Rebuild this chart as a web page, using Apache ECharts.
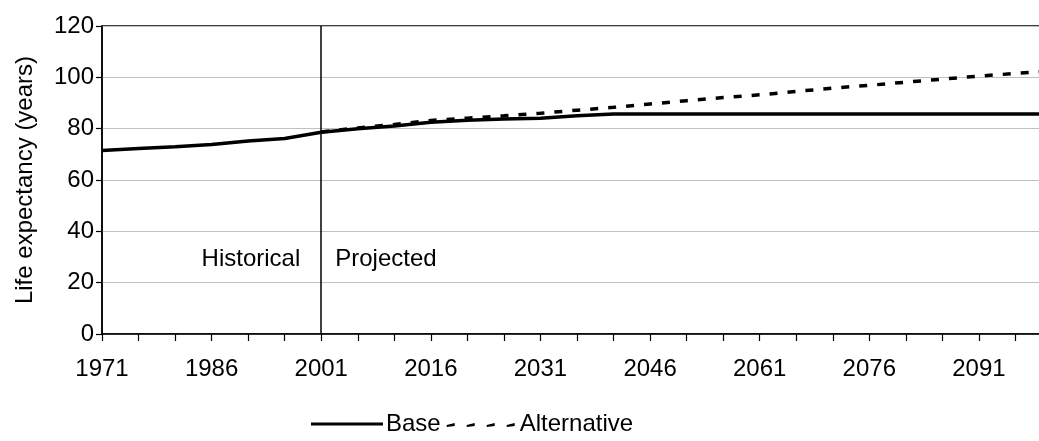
<!DOCTYPE html>
<html>
<head>
<meta charset="utf-8">
<script src="https://cdn.jsdelivr.net/npm/echarts@6/dist/echarts.min.js"></script>
<style>
html,body{margin:0;padding:0;background:#fff;}
#chart{width:1039px;height:441px;}
</style>
</head>
<body>
<div id="chart"></div>
<script>
var years = ['1971','1976','1981','1986','1991','1996','2001','2006','2011','2016','2021','2026','2031','2036','2041','2046','2051','2056','2061','2066','2071','2076','2081','2086','2091','2096','2101'];
var baseValues = [71.5,72.3,73.0,73.8,75.2,76.2,78.6,80.0,81.0,82.5,83.3,83.8,84.1,85.0,85.7,85.7,85.7,85.7,85.7,85.7,85.7,85.7,85.7,85.7,85.7,85.7,85.7];
var altValues = [null,null,null,null,null,null,78.7,80.3,81.6,83.2,84.1,85.0,86.0,87.2,88.3,89.6,90.9,92.1,93.2,94.5,95.8,96.9,98.1,99.3,100.5,101.5,102.5];
var yTicks = [0,20,40,60,80,100,120];
var splitYear = '2001';
var historicalLabel = 'Historical';
var projectedLabel = 'Projected';
var labelValue = 29;

var FONT = 'Liberation Sans, Arial, sans-serif';
var FS = 24;
var chart = echarts.init(document.getElementById('chart'), null, {renderer:'canvas'});
chart.setOption({
  animation:false,
  backgroundColor:'#fff',
  textStyle:{fontFamily:FONT},
  grid:{left:102, top:26, height:308, width:950, outerBoundsMode:'none', containLabel:false, show:true, borderColor:'#000', borderWidth:1.5, backgroundColor:'transparent'},
  legend:{
    bottom:0, left:306,
    itemWidth:72, itemHeight:14, itemGap:4,
    textStyle:{fontFamily:FONT, fontSize:FS, color:'#000', padding:[0,0,0,-2]},
    data:[
      {name:'Base', icon:'path://M0,5.5 L72,5.5 L72,8.5 L0,8.5 Z', itemStyle:{color:'#000'}},
      {name:'Alternative', icon:'path://M2,8 L10,6 L10,9 L2,10 Z M22,8 L30,6 L30,9 L22,10 Z M42,8 L50,6 L50,9 L42,10 Z M62,8 L70,6 L70,9 L62,10 Z M0,0 L0.01,0 M72,14 L72.01,14', itemStyle:{color:'#000'}}
    ]
  },
  xAxis:{
    type:'category', data:years, boundaryGap:false,
    axisLine:{lineStyle:{color:'#000', width:1.5}},
    axisTick:{interval:0, length:7, lineStyle:{color:'#000', width:1.2}},
    axisLabel:{interval:2, margin:23, fontSize:FS, color:'#000', fontFamily:FONT},
    splitLine:{show:false}
  },
  yAxis:{
    type:'value', min:yTicks[0], max:yTicks[yTicks.length-1], interval:20,
    name:'Life expectancy (years)', nameLocation:'middle', nameGap:65, nameRotate:90,
    nameTextStyle:{fontSize:FS, color:'#000', fontFamily:FONT},
    axisLine:{show:true, lineStyle:{color:'#000', width:1.5}},
    axisTick:{show:true, length:6, lineStyle:{color:'#000', width:1.2}},
    axisLabel:{margin:8, fontSize:FS, color:'#000', fontFamily:FONT},
    splitLine:{lineStyle:{color:'#c0c0c0', width:1}}
  },
  series:[
    {
      name:'Base', type:'line', data:baseValues, symbol:'none', z:3,
      lineStyle:{color:'#000', width:3.5},
      itemStyle:{color:'#000'},
      markLine:{
        silent:true, symbol:'none',
        lineStyle:{color:'#000', width:1.5, type:'solid'},
        label:{show:false},
        data:[{xAxis:splitYear}]
      },
      markPoint:{
        symbol:'circle', symbolSize:0, silent:true,
        data:[
          {coord:[splitYear, labelValue], label:{show:true, position:'left', distance:21, formatter:historicalLabel, fontSize:FS, color:'#000', fontFamily:FONT}},
          {coord:[splitYear, labelValue], label:{show:true, position:'right', distance:14, formatter:projectedLabel, fontSize:FS, color:'#000', fontFamily:FONT}}
        ]
      }
    },
    {
      name:'Alternative', type:'line', data:altValues, symbol:'none', z:2,
      lineStyle:{color:'#000', width:3.5, type:[8,10]},
      itemStyle:{color:'#000'}
    }
  ]
});
</script>
</body>
</html>
